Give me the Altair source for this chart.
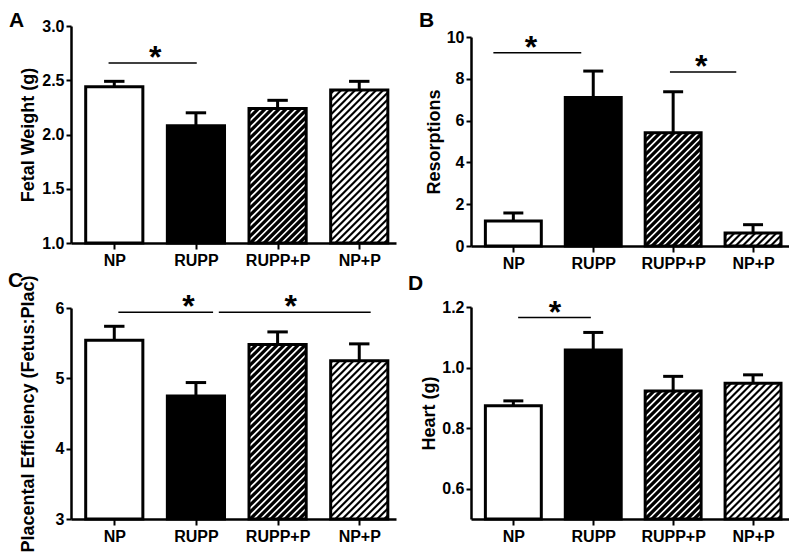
import json
import pandas as pd
import altair as alt

# ---------------- data ----------------
groups = ["NP", "RUPP", "RUPP+P", "NP+P"]

fetal_mean = [2.44, 2.08, 2.24, 2.41]
fetal_sem = [0.05, 0.12, 0.075, 0.08]

resorp_mean = [1.2, 7.1, 5.42, 0.62]
resorp_sem = [0.38, 1.27, 1.96, 0.40]

plac_mean = [5.54, 4.75, 5.48, 5.25]
plac_sem = [0.20, 0.19, 0.18, 0.24]

heart_mean = [0.874, 1.058, 0.923, 0.948]
heart_sem = [0.016, 0.058, 0.048, 0.028]

# significance brackets: (from, to, level, star position)
fetal_sig = [(-0.07, 1.01, 2.66, 0.50)]
resorp_sig = [(-0.25, 0.85, 9.25, 0.22), (1.96, 2.79, 8.33, 2.35)]
plac_sig = [(0.05, 1.21, 5.94, 0.91), (1.28, 3.14, 5.94, 2.16)]
heart_sig = [(0.06, 0.97, 1.165, 0.52)]

# ---------------- styling ----------------
FONT = "Liberation Sans"
HW = 0.35      # half bar width (category units)
CAP = 0.125    # half cap width
XDOM = [-0.53, 3.45]
label_expr = "%s[datum.value]" % json.dumps(groups)

fill_scale = alt.Scale(domain=groups, range=["white", "black", "black", "white"])
hatch_color = alt.Scale(domain=["RUPP+P", "NP+P"], range=["white", "black"])
hatch_width = alt.Scale(domain=["RUPP+P", "NP+P"], range=[1.7, 2.1])


def hatch_df(means, base, kx, ky, period=7.0):
    rows = []
    for i, (g, m) in enumerate(zip(groups, means)):
        if not g.endswith("+P"):
            continue
        w = 2 * HW * kx
        H = (m - base) * ky
        x0 = i - HW
        c0 = -w + period / 2
        while c0 < H:
            xs = max(0.0, -c0)
            xe = min(w, H - c0)
            if xe > xs:
                rows.append(dict(group=g,
                                 hx=x0 + xs / kx, hx2=x0 + xe / kx,
                                 hy=base + (xs + c0) / ky, hy2=base + (xe + c0) / ky))
            c0 += period
    return pd.DataFrame(rows)


def panel(letter, means, sems, sig, base, ydom, yticks, yfmt, ytitle,
          width, height, yrange, xoffset, titlex, letter_xy):
    df = pd.DataFrame({"group": groups, "i": list(range(len(groups))),
                       "mean": means, "sem": sems})
    df["top"] = df["mean"] + df["sem"]
    df["base"] = base
    df["x0"] = df["i"] - HW
    df["x1"] = df["i"] + HW
    df["c0"] = df["i"] - CAP
    df["c1"] = df["i"] + CAP

    kx = width / (XDOM[1] - XDOM[0])
    ky = (yrange[0] - yrange[1]) / (ydom[1] - ydom[0])
    hdf = hatch_df(means, base, kx, ky)

    sdf = pd.DataFrame(sig, columns=["sx0", "sx1", "sy", "star"])

    xs = alt.Scale(domain=XDOM, nice=False, zero=False)
    ys = alt.Scale(domain=ydom, range=yrange, nice=False, zero=False)
    xaxis = alt.Axis(values=[0, 1, 2, 3], labelExpr=label_expr, title=None,
                     grid=False, tickSize=6, tickWidth=2, domainWidth=2.5,
                     domainColor="black", tickColor="black", labelColor="black",
                     labelFont=FONT, labelFontSize=16, labelFontWeight="bold",
                     labelPadding=3, offset=xoffset)
    yaxis = alt.Axis(values=yticks, format=yfmt, title=ytitle, grid=False,
                     tickSize=5, tickWidth=2, domainWidth=2.5,
                     domainColor="black", tickColor="black", labelColor="black",
                     labelFont=FONT, labelFontSize=16, labelFontWeight="bold",
                     labelPadding=2, titleFont=FONT, titleFontSize=18,
                     titleFontWeight="bold", titleColor="black",
                     titleX=titlex, titleBaseline="middle")

    def X(f):
        return alt.X(f, type="quantitative", scale=xs, axis=xaxis)

    def Y(f):
        return alt.Y(f, type="quantitative", scale=ys, axis=yaxis)

    bars = alt.Chart(df).mark_rect().encode(
        x=X("x0"), x2="x1", y=Y("base"), y2="mean",
        fill=alt.Fill("group:N", scale=fill_scale, legend=None))
    hatch = alt.Chart(hdf).mark_rule().encode(
        x=X("hx"), x2="hx2", y=Y("hy"), y2="hy2",
        color=alt.Color("group:N", scale=hatch_color, legend=None),
        strokeWidth=alt.StrokeWidth("group:N", scale=hatch_width, legend=None))
    outline = alt.Chart(df).mark_rect(fill="white", fillOpacity=0, stroke="black",
                                      strokeWidth=3).encode(
        x=X("x0"), x2="x1", y=Y("base"), y2="mean")
    errv = alt.Chart(df).mark_rule(color="black", strokeWidth=3).encode(
        x=X("i"), y=Y("mean"), y2="top")
    cap = alt.Chart(df).mark_rule(color="black", strokeWidth=3).encode(
        x=X("c0"), x2="c1", y=Y("top"))
    sigl = alt.Chart(sdf).mark_rule(color="black", strokeWidth=1.5).encode(
        x=X("sx0"), x2="sx1", y=Y("sy"))
    stars = alt.Chart(sdf).mark_text(text="*", font=FONT, fontSize=32,
                                     fontWeight="bold", color="black",
                                     baseline="alphabetic", dy=5).encode(
        x=X("star"), y=Y("sy"))
    lab = alt.Chart(pd.DataFrame({"l": [letter]})).mark_text(
        align="left", baseline="alphabetic", font=FONT, fontSize=21,
        fontWeight="bold", color="black").encode(
        x=alt.value(letter_xy[0]), y=alt.value(letter_xy[1]), text="l:N")

    return alt.layer(bars, hatch, outline, errv, cap, sigl, stars, lab).properties(
        width=width, height=height)


pA = panel("A", fetal_mean, fetal_sem, fetal_sig, 1.0, [1.0, 3.0],
           [1.0, 1.5, 2.0, 2.5, 3.0], ".1f", "Fetal Weight (g)",
           325, 220, [217, 0], -3, -43, (-62, 1))
pB = panel("B", resorp_mean, resorp_sem, resorp_sig, 0.0, [0, 10],
           [0, 2, 4, 6, 8, 10], "d", "Resorptions",
           318, 220, [220, 11], 0, -37, (-52, 1))
pC = panel("C", plac_mean, plac_sem, plac_sig, 3.0, [3, 6],
           [3, 4, 5, 6], "d", "Placental Efficiency (Fetus:Plac)",
           325, 212, [212, 1], 0, -43, (-63, -20))
pD = panel("D", heart_mean, heart_sem, heart_sig, 0.5, [0.5, 1.2],
           [0.6, 0.8, 1.0, 1.2], ".1f", "Heart (g)",
           318, 212, [212, 0], 0, -42, (-63, -17))

chart = alt.concat(pA, pB, pC, pD, columns=2,
                   spacing={"row": 61, "column": 75}, bounds="flush").properties(
    padding={"left": 0, "top": 2, "right": 0, "bottom": 0}, background="white"
).configure_view(stroke=None)

chart.save("out.html", embed_options={"renderer": "svg", "actions": False})
